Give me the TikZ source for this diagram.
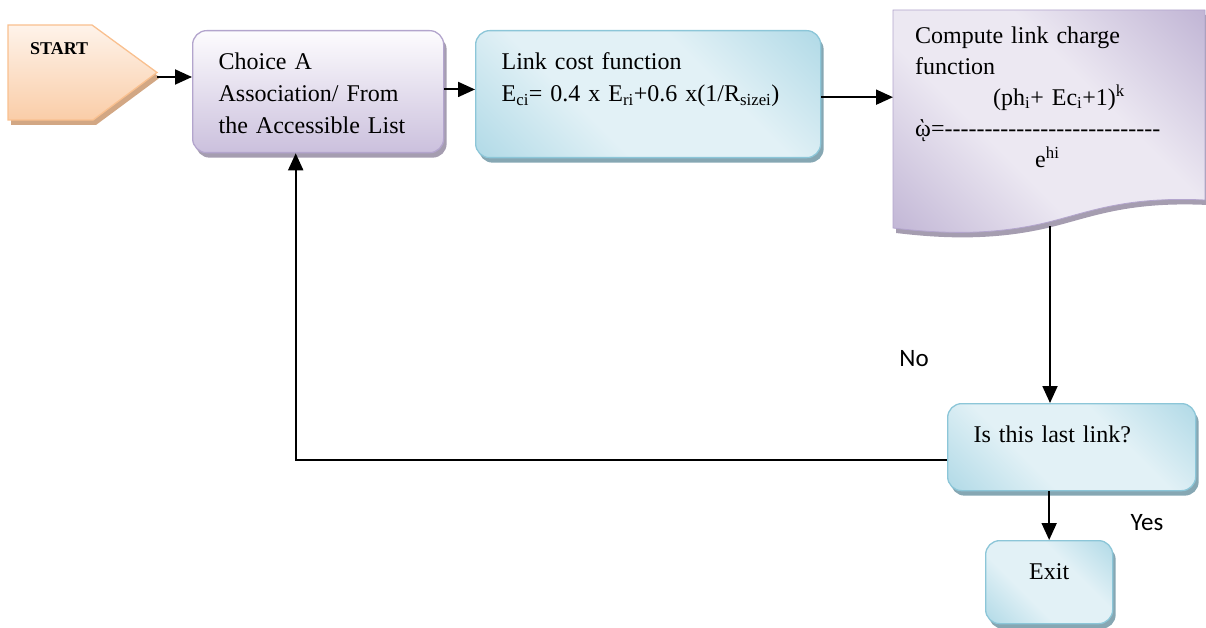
\documentclass[tikz,border=0pt]{standalone}
\usepackage{fontspec}
\setmainfont{Liberation Serif}
\newfontfamily\sansf{Carlito}
\usetikzlibrary{arrows.meta,shadows}
\definecolor{bdark}{HTML}{92CBDD}
\definecolor{blight}{HTML}{E2F1F6}
\definecolor{bborder}{HTML}{8CC6D8}
\definecolor{bshadow}{HTML}{86A7B3}
\definecolor{pdark}{HTML}{A898C4}
\definecolor{plight}{HTML}{ECE8F2}
\definecolor{ptop}{HTML}{FDFCFE}
\definecolor{pbot}{HTML}{CBC0DD}
\definecolor{pborder}{HTML}{B3A5CD}
\definecolor{pshadow}{HTML}{A59DB0}
\definecolor{oborder}{HTML}{F9C08F}
\definecolor{otop}{HTML}{FEF3EA}
\definecolor{obot}{HTML}{FACDA8}
\definecolor{oshadow}{HTML}{D2A784}
\pgfdeclarehorizontalshading{blueglass}{100bp}{color(0bp)=(bdark); color(38bp)=(blight); color(62bp)=(blight); color(100bp)=(bdark)}
\pgfdeclarehorizontalshading{purpleglass}{100bp}{color(0bp)=(pdark); color(40bp)=(plight); color(60bp)=(plight); color(100bp)=(pdark)}
\newcommand\dd{-\kern0pt}
\begin{document}
\begin{tikzpicture}[x=1pt,y=-1pt,
  txt/.style={font=\fontsize{24}{32}\selectfont},
  boxbase/.style={rounded corners=14pt, line width=1.3pt, inner xsep=26pt, inner ysep=22pt, text height=17pt, anchor=north west, align=left, txt},
  bluebox/.style={boxbase, draw=bborder, shade, shading=blueglass, shading angle=45, drop shadow={shadow xshift=3pt, shadow yshift=-5pt, fill=bshadow, opacity=1}},
  purplebox/.style={boxbase, draw=pborder, top color=ptop, bottom color=pbot, drop shadow={shadow xshift=3pt, shadow yshift=-5pt, fill=pshadow, opacity=1}},
  arr/.style={line width=1.9pt, -{Triangle[length=17pt,width=15pt]}},
  lbl/.style={font=\sansf\fontsize{25}{28}\selectfont, inner sep=0pt}
]
\useasboundingbox (0,0) rectangle (1206,628);
% START
\fill[oshadow] (11,30) -- (95,30) -- (160,77.5) -- (96,125) -- (11,125) -- cycle;
\draw[draw=oborder, line width=1.3pt, top color=otop, bottom color=obot] (8,25) -- (92,25) -- (157,72.5) -- (93,120) -- (8,120) -- cycle;
\coordinate (startout) at (157,77);
\node[anchor=base west, font=\bfseries\fontsize{18}{20}\selectfont, inner sep=0pt] (starttext) at (30,55) {START};
% Choice
\node[purplebox, text width=199pt, text depth=61pt] (choice) at (192,30) {Choice A\\Association/ From\\the Accessible List};
% Link cost
\node[bluebox, text width=293pt, text depth=66pt] (link) at (475,30) {Link cost function\\E\textsubscript{ci}= 0.4 x E\textsubscript{ri}+0.6 x(1/R\textsubscript{sizei})};
% Compute (document shape)
\fill[pshadow] (896,15) -- (1208,15) -- (1208,205) .. controls (1123,201) and (1088,219) .. (1043,229) .. controls (988,241) and (938,238) .. (896,233) -- cycle;
\path[shade, shading=purpleglass, shading angle=45, draw=pborder, line width=0.8pt] (893,10) -- (1205,10) -- (1205,200) .. controls (1120,196) and (1085,214) .. (1040,224) .. controls (985,236) and (935,233) .. (893,228) -- cycle;
\node[anchor=north west, inner xsep=22pt, inner ysep=16pt, text width=268pt, text height=17pt, text depth=169pt, align=left, font=\fontsize{24}{31}\selectfont] (comp) at (893,10) {Compute link charge\\function\\\hspace*{78pt}(ph\textsubscript{i}+ Ec\textsubscript{i}+1)\textsuperscript{k}\\ῲ=\dd\dd\dd\dd\dd\dd\dd\dd\dd\dd\dd\dd\dd\dd\dd\dd\dd\dd\dd\dd\dd\dd\dd\dd\dd\dd\dd\\\hspace*{120pt}e\textsuperscript{hi}};
\coordinate (compout) at (1050,226);
% Decision and exit
\node[bluebox, text width=196pt, text depth=26pt] (dec) at (947,403) {Is this last link?};
\node[bluebox, text width=75pt, text depth=22pt, align=center] (exit) at (985,540) {Exit};
% labels
\node[lbl] (no) at (914,359) {No};
\node[lbl] (yes) at (1147,523) {Yes};
% connectors
\draw[arr] (startout) -- (startout -| choice.west);
\draw[arr] (choice.1.4) -- (choice.1.4 -| link.west);
\draw[arr] (link.-1.8) -- (link.-1.8 -| comp.west);
\draw[arr] (compout) -- (compout |- dec.north);
\draw[arr] (exit.north |- dec.south) -- (exit.north);
\draw[arr] (dec.-174.7) -| (choice.-110.2);
\end{tikzpicture}
\end{document}
